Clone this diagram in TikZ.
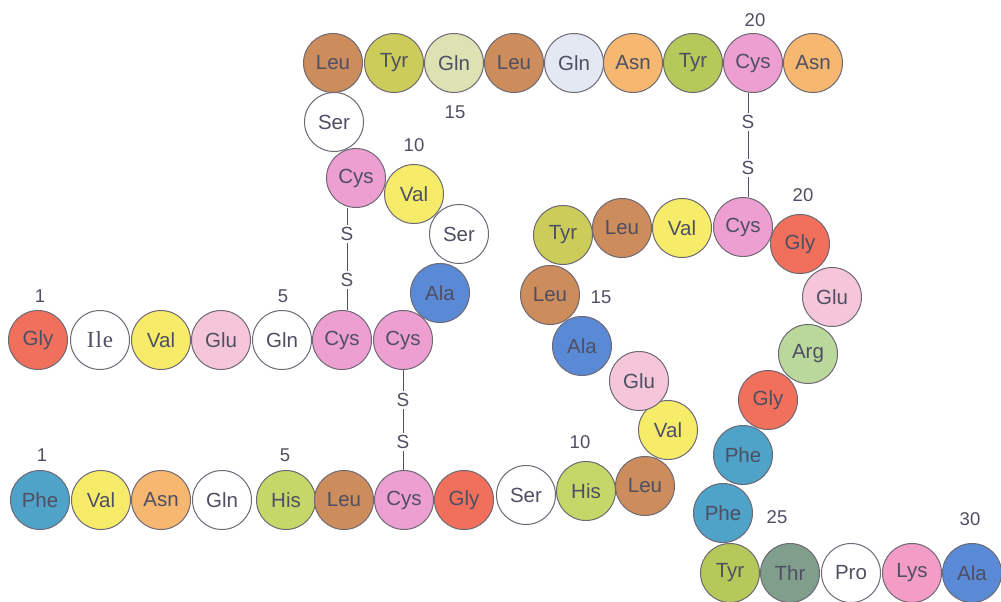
\documentclass[tikz,border=0pt]{standalone}
\usepackage{fontspec}
\setmainfont{Liberation Sans}
\newfontfamily\ilefont{Liberation Serif}
\usetikzlibrary{positioning}
\definecolor{ink}{HTML}{4E4F62}
\definecolor{rim}{HTML}{6E6874}
\definecolor{leu}{HTML}{CC8C5C}
\definecolor{tyr}{HTML}{CCCC5A}
\definecolor{tyrg}{HTML}{B5C95A}
\definecolor{glnp}{HTML}{DCE2B2}
\definecolor{glnb}{HTML}{E4E8F2}
\definecolor{asn}{HTML}{F6B870}
\definecolor{cys}{HTML}{EE9FD2}
\definecolor{val}{HTML}{F6EC6A}
\definecolor{ala}{HTML}{5A8AD6}
\definecolor{gly}{HTML}{F0705C}
\definecolor{glu}{HTML}{F5C6DA}
\definecolor{phe}{HTML}{4FA2C8}
\definecolor{his}{HTML}{C5D768}
\definecolor{thr}{HTML}{7F9E8C}
\definecolor{lys}{HTML}{F29CC6}
\definecolor{arg}{HTML}{BAD89C}

\begin{document}
\begin{tikzpicture}[x=1pt,y=-1pt,
  res/.style={circle,draw=rim,line width=1pt,minimum size=59pt,inner sep=0,text=ink,font=\fontsize{20.5}{20.5}\selectfont},
  num/.style={text=ink,font=\fontsize{18.5}{18.5}\selectfont},
  sulf/.style={text=ink,font=\fontsize{19}{19}\selectfont,inner sep=2.5pt},
  bond/.style={draw=ink,line width=0.8pt}]
  \useasboundingbox (0,0) rectangle (1001,602);
  % chain A
  \foreach \n/\x/\y/\t/\c in {a1/38/340/Gly/gly, a2/100/340/{\ilefont\fontsize{23}{23}\selectfont I\kern1pt l\kern1pt e}/white, a3/161/340/Val/val,
      a4/221/340/Glu/glu, a5/282/340/Gln/white, a6/342/340/Cys/cys, a7/403/340/Cys/cys,
      a8/440/293/Ala/ala, a9/459/234/Ser/white, a10/414/194/Val/val, a11/356/178/Cys/cys,
      a12/334/122/Ser/white, a13/333/63/Leu/leu, a14/394/63/Tyr/tyr, a15/454/63/Gln/glnp,
      a16/514/63/Leu/leu, a17/574/63/Gln/glnb, a18/633/63/Asn/asn, a19/693/63/Tyr/tyrg,
      a20/753/63/Cys/cys, a21/813/63/Asn/asn}
    \node[res,fill=\c] (\n) at (\x,\y) {\t};
  % chain B
  \foreach \n/\x/\y/\t/\c in {b1/40/500/Phe/phe, b2/101/500/Val/val, b3/161/500/Asn/asn,
      b4/222/500/Gln/white, b5/286/500/His/his, b6/344/500/Leu/leu, b7/404/500/Cys/cys,
      b8/464/500/Gly/gly, b9/526/495/Ser/white, b10/586/491/His/his, b11/645/486/Leu/leu,
      b12/668/430/Val/val, b13/639/381/Glu/glu, b14/582/346/Ala/ala, b15/550/295/Leu/leu,
      b16/563/235/Tyr/tyr, b17/622/228/Leu/leu, b18/682/228/Val/val, b19/743/227/Cys/cys,
      b20/800/244/Gly/gly, b21/832/297/Glu/glu, b22/808/354/Arg/arg, b23/768/400/Gly/gly,
      b24/743/455/Phe/phe, b25/723/513/Phe/phe, b26/730/573/Tyr/tyrg, b27/790/573/Thr/thr,
      b28/851/573/Pro/white, b29/912/573/Lys/lys, b30/972/573/Ala/ala}
    \node[res,fill=\c] (\n) at (\x,\y) {\t};
  % residue numbers
  \node[num] (na1) at (40,296) {1};
  \node[num] (na5) at (283,296) {5};
  \node[num] (na10) at (414,145) {10};
  \node[num] (na15) at (455,112) {15};
  \node[num] (na20) at (755,20) {20};
  \node[num] (nb1) at (42,455) {1};
  \node[num] (nb5) at (285,455) {5};
  \node[num] (nb10) at (580,442) {10};
  \node[num] (nb15) at (601,297) {15};
  \node[num] (nb20) at (803,195) {20};
  \node[num] (nb25) at (777,517) {25};
  \node[num] (nb30) at (970,519) {30};
  % disulfide bridges
  \node[sulf] (s1) at (347,234) {S};
  \node[sulf] (s2) at (347,280) {S};
  \node[sulf] (s3) at (403,400) {S};
  \node[sulf] (s4) at (403,442) {S};
  \node[sulf] (s5) at (748,122) {S};
  \node[sulf] (s6) at (748,168) {S};
  \draw[bond] (s1 |- a11.south) -- (s1);
  \draw[bond] (s1) -- (s2);
  \draw[bond] (s2) -- (s2 |- a6.north);
  \draw[bond] (s3 |- a7.south) -- (s3);
  \draw[bond] (s3) -- (s4);
  \draw[bond] (s4) -- (s4 |- b7.north);
  \draw[bond] (s5 |- a20.south) -- (s5);
  \draw[bond] (s5) -- (s6);
  \draw[bond] (s6) -- (s6 |- b19.north);
\end{tikzpicture}
\end{document}
